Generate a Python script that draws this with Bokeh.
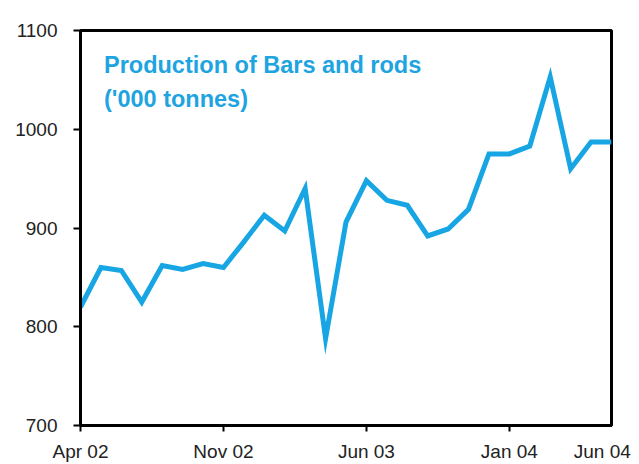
from bokeh.plotting import figure
from bokeh.models import LinearAxis, FixedTicker, Range1d, Label
from bokeh.embed import file_html
from bokeh.resources import INLINE

# ---- data ----
months = ["Apr 02", "May 02", "Jun 02", "Jul 02", "Aug 02", "Sep 02", "Oct 02",
          "Nov 02", "Dec 02", "Jan 03", "Feb 03", "Mar 03", "Apr 03", "May 03",
          "Jun 03", "Jul 03", "Aug 03", "Sep 03", "Oct 03", "Nov 03", "Dec 03",
          "Jan 04", "Feb 04", "Mar 04", "Apr 04", "May 04", "Jun 04"]
production = [820, 860, 857, 825, 862, 858, 864, 860, 886, 913, 897, 940,
              788, 906, 948, 928, 923, 892, 899, 919, 975, 975, 983, 1053,
              960, 987, 987]
x_tick_labels = ["Apr 02", "Nov 02", "Jun 03", "Jan 04", "Jun 04"]
y_ticks = [700, 800, 900, 1000, 1100]
title_lines = ["Production of Bars and rods", "('000 tonnes)"]

LINE_BLUE = "#17A6E3"
TITLE_BLUE = "#1EA4E0"
xs = list(range(len(months)))

p = figure(width=639, height=464, output_backend="svg", toolbar_location=None,
           x_range=Range1d(0, len(months) - 1), y_range=Range1d(y_ticks[0], y_ticks[-1]),
           x_axis_location=None, y_axis_location=None,
           min_border_left=80, min_border_right=28, min_border_top=30, min_border_bottom=39)
p.outline_line_color = "black"
p.outline_line_width = 3
p.outline_line_alpha = 1
p.background_fill_color = "white"
p.border_fill_color = "white"
for g in p.grid:
    g.visible = False

# y axis
yax = LinearAxis(ticker=FixedTicker(ticks=y_ticks))
yax.axis_line_width = 3
yax.axis_line_color = "black"
yax.major_tick_out = 7
yax.major_tick_in = 0
yax.major_tick_line_width = 2
yax.minor_tick_line_color = None
yax.major_label_standoff = 16
yax.major_label_text_font = "Liberation Sans"
yax.major_label_text_font_size = "19px"
yax.major_label_text_color = "#222222"
yax.major_label_text_baseline = "alphabetic"
p.add_layout(yax, "left")

# x axis: tick marks only
tick_pos = [months.index(l) for l in x_tick_labels[:-1]]
xtick = LinearAxis(ticker=FixedTicker(ticks=tick_pos))
xtick.axis_line_width = 3
xtick.axis_line_color = "black"
xtick.major_tick_out = 6
xtick.major_tick_in = 0
xtick.major_tick_line_width = 2
xtick.major_tick_line_color = "black"
xtick.minor_tick_line_color = None
xtick.major_label_standoff = 0
xtick.major_label_text_font_size = "1px"
xtick.major_label_text_alpha = 0
xtick.major_label_overrides = {t: " " for t in tick_pos}
p.add_layout(xtick, "below")

# x axis: labels (last label kept inside the canvas)
label_pos = [months.index(l) for l in x_tick_labels]
label_pos[-1] = label_pos[-1] - 0.45
xlab = LinearAxis(ticker=FixedTicker(ticks=label_pos))
xlab.axis_line_color = None
xlab.major_tick_line_color = None
xlab.minor_tick_line_color = None
xlab.major_tick_out = 0
xlab.major_tick_in = 0
xlab.major_label_standoff = 9
xlab.major_label_text_font = "Liberation Sans"
xlab.major_label_text_font_size = "19px"
xlab.major_label_text_color = "#222222"
xlab.major_label_overrides = {pos: lab for pos, lab in zip(label_pos, x_tick_labels)}
p.add_layout(xlab, "below")

p.line(xs, production, line_color=LINE_BLUE, line_width=5, line_join="miter")

p.add_layout(Label(x=1.15, y=1065, text=title_lines[0], text_font="Liberation Sans",
                   text_font_style="bold", text_font_size="23.5px", text_color=TITLE_BLUE,
                   text_baseline="alphabetic"))
p.add_layout(Label(x=1.15, y=1031, text=title_lines[1], text_font="Liberation Sans",
                   text_font_style="bold", text_font_size="23.5px", text_color=TITLE_BLUE,
                   text_baseline="alphabetic"))

open("out.html", "w").write(file_html(p, INLINE))
